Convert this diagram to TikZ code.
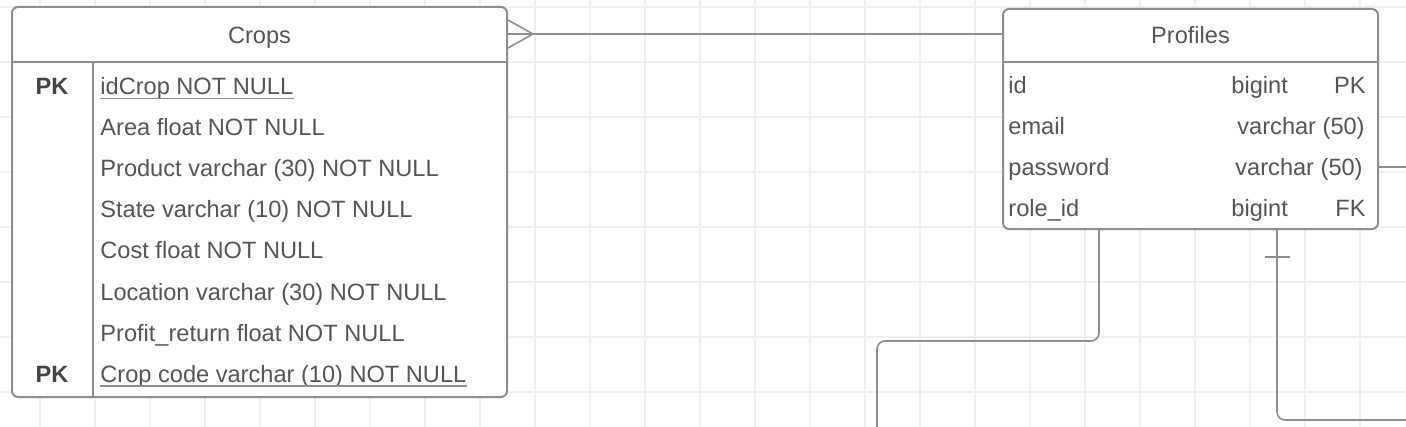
\documentclass[tikz,border=0pt]{standalone}
\usepackage{fontspec}
\setmainfont{Liberation Sans}
\usetikzlibrary{positioning,calc}
\definecolor{linegray}{HTML}{8E8E8E}
\definecolor{textgray}{HTML}{555555}
\definecolor{keygray}{HTML}{444444}
\definecolor{gridgray}{HTML}{F0F0F0}

\begin{document}
\begin{tikzpicture}[x=0.5pt, y=-0.5pt,
    tablebox/.style={draw=linegray, line width=1pt, fill=white, rounded corners=3pt, inner sep=0pt},
    field/.style={inner sep=0pt, text=textgray, font=\fontsize{11.8}{14}\selectfont},
    conn/.style={draw=linegray, line width=0.8pt},
    gridline/.style={draw=gridgray, line width=0.8pt}]

\fill[white] (0,0) rectangle (1406,427);
\useasboundingbox (0,0) rectangle (1406,427);

% grid
\foreach \gx in {40,95,...,1360}
{
    \draw[gridline] (\gx,0) -- (\gx,427);
}
\foreach \gy in {7,62,...,392}
{
    \draw[gridline] (0,\gy) -- (1406,\gy);
}

% tables
\node[tablebox, minimum width=247.5pt, minimum height=195pt] (crops) at (259.5,202) {};
\node[tablebox, minimum width=187.5pt, minimum height=110pt] (profiles) at (1190.5,119) {};

\draw[conn, line width=1pt] ([yshift=-28pt]crops.north west) -- ([yshift=-28pt]crops.north east);
\draw[conn, line width=1pt] ([xshift=41pt,yshift=-28pt]crops.north west) -- ([xshift=41pt]crops.south west);
\draw[conn, line width=1pt] ([yshift=-27pt]profiles.north west) -- ([yshift=-27pt]profiles.north east);

\node[field, anchor=base] (crops-title) at (259.5,44) {Crops};
\node[field, anchor=base] (profiles-title) at (1190.5,44) {Profiles};

\foreach \txt [count=\i] in {idCrop NOT NULL, Area float NOT NULL, Product varchar (30) NOT NULL,
    State varchar (10) NOT NULL, Cost float NOT NULL, Location varchar (30) NOT NULL,
    Profit\_return float NOT NULL, Crop code varchar (10) NOT NULL}
{
    \node[field, anchor=base west] (crop\i) at (100,{94.5+41.1*(\i-1)}) {\txt};
}

\node[field, anchor=base, text=keygray, font=\fontsize{11.8}{14}\selectfont\bfseries] (crop-pk1) at (52,94.5) {PK};
\node[field, anchor=base, text=keygray, font=\fontsize{11.8}{14}\selectfont\bfseries] (crop-pk8) at (52,382.2) {PK};

\draw[conn] ([yshift=-2pt]crop1.base west) -- ([yshift=-2pt]crop1.base east);
\draw[conn] ([yshift=-2pt]crop8.base west) -- ([yshift=-2pt]crop8.base east);

\foreach \fname/\ftype/\tx/\fkey [count=\i] in {id/bigint/1231/PK, email/varchar (50)/1237/, password/varchar (50)/1235/, role\_id/bigint/1231/FK}
{
    \node[field, anchor=base west] (prof-n\i) at (1008,{93.5+41*(\i-1)}) {\fname};
    \node[field, anchor=base west] (prof-t\i) at (\tx,{93.5+41*(\i-1)}) {\ftype};
    \node[field, anchor=base east] (prof-k\i) at (1366,{93.5+41*(\i-1)}) {\fkey};
}

% relations
\coordinate (cf) at ([yshift=-14pt]crops.north east);
\draw[conn] (cf) -- (cf -| profiles.west);
\draw[conn] ([yshift=7pt]cf) -- ([xshift=12.5pt]cf) -- ([yshift=-7pt]cf);

\coordinate (edgeA) at (1406,167);
\draw[conn] (edgeA -| profiles.east) -- (edgeA);

\coordinate (edgeB) at (877,427);
\draw[conn, rounded corners=4pt] ([xshift=-45.75pt]profiles.south) -- (1099,341) -- (877,341) -- (edgeB);

\coordinate (edgeC) at (1406,420);
\draw[conn, rounded corners=4pt] ([xshift=43.25pt]profiles.south) -- (1277,420) -- (edgeC);
\draw[conn] (1265,257) -- (1290,257);

\end{tikzpicture}
\end{document}
